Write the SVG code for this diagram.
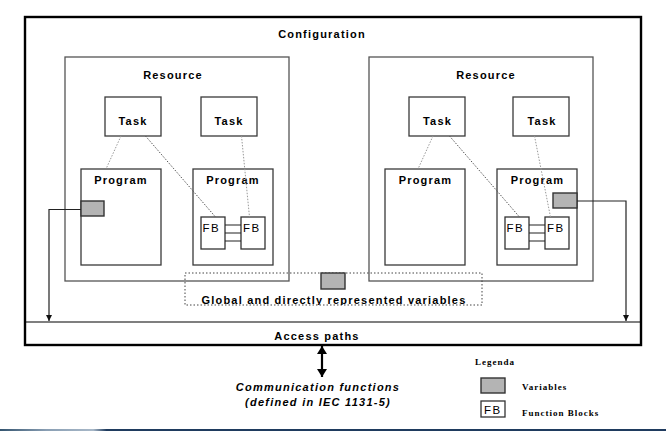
<svg xmlns="http://www.w3.org/2000/svg" width="666" height="431" viewBox="0 0 666 431">
<style>
.lbl{font-family:"Liberation Sans",Arial,sans-serif;font-weight:bold;font-size:11px;letter-spacing:1.2px;fill:#000}
.fb{font-family:"Liberation Sans",Arial,sans-serif;font-size:11.5px;letter-spacing:1.5px;fill:#000}
.leg{font-family:"Liberation Serif","Times New Roman",serif;font-weight:bold;font-size:9px;letter-spacing:1px;fill:#000}
.it{font-family:"Liberation Sans",Arial,sans-serif;font-weight:bold;font-style:italic;font-size:11px;letter-spacing:1.25px;fill:#000}
.box{fill:#fff;stroke:#3a3a3a;stroke-width:1.3}
.res{fill:#fff;stroke:#555;stroke-width:1.3}
.var{fill:#b4b4b4;stroke:#333;stroke-width:1.4}
.fbx{fill:#fff;stroke:#333;stroke-width:1.3}
.dot{fill:none;stroke:#999;stroke-width:1;stroke-dasharray:1.5 1.5}
.dotd{fill:none;stroke:#555;stroke-width:1;stroke-dasharray:1.5 1.5}
.wire{fill:none;stroke:#222;stroke-width:1.2}
</style>
<defs>
<marker id="ah" viewBox="0 0 6 6" refX="6" refY="3" markerWidth="6" markerHeight="6" markerUnits="userSpaceOnUse" orient="auto">
<path d="M0,0 L6,3 L0,6 Z" fill="#111"/>
</marker>
<marker id="big" viewBox="0 0 8 10" refX="8" refY="5" markerWidth="8" markerHeight="10" markerUnits="userSpaceOnUse" orient="auto-start-reverse">
<path d="M0,0 L8,5 L0,10 Z" fill="#000"/>
</marker>
<clipPath id="gclip"><rect x="185" y="273" width="297" height="32"/></clipPath>
<linearGradient id="strip" x1="0" y1="0" x2="1" y2="0">
<stop offset="0" stop-color="#34546f"/>
<stop offset="0.07" stop-color="#8a9fb4"/>
<stop offset="0.14" stop-color="#a8b8c8"/>
<stop offset="0.16" stop-color="#1f3b5e"/>
<stop offset="1" stop-color="#1f3b5e"/>
</linearGradient>
</defs>
<rect width="666" height="431" fill="#fff"/>
<rect x="0" y="429" width="666" height="2" fill="url(#strip)"/>

<g id="configuration">
<rect x="25" y="17" width="616" height="328" fill="#fff" stroke="#000" stroke-width="2.4"/>
<text class="lbl" x="322" y="38" text-anchor="middle">Configuration</text>
</g>

<g id="access-paths">
<line x1="25" y1="322" x2="641" y2="322" stroke="#000" stroke-width="1.2"/>
<text class="lbl" x="317" y="340" text-anchor="middle">Access paths</text>
</g>

<g id="resource1">
<rect class="res" x="65" y="57" width="224" height="224"/>
<text class="lbl" x="173" y="79" text-anchor="middle">Resource</text>
</g>
<g id="resource2">
<rect class="res" x="369" y="57" width="224" height="224"/>
<text class="lbl" x="486" y="79" text-anchor="middle">Resource</text>
</g>

<g id="global-vars">
<rect x="185" y="273" width="297" height="32" fill="none" stroke="#444" stroke-width="1" stroke-dasharray="1.5 2"/>
<rect class="var" x="321" y="273" width="24" height="16"/>
<text class="lbl" x="334" y="304" text-anchor="middle" clip-path="url(#gclip)">Global and directly represented variables</text>
</g>

<g id="task1"><rect class="box" x="105" y="97" width="56" height="39"/><text class="lbl" x="133" y="125" text-anchor="middle">Task</text></g>
<g id="task2"><rect class="box" x="201" y="97" width="56" height="39"/><text class="lbl" x="229" y="125" text-anchor="middle">Task</text></g>
<g id="task3"><rect class="box" x="409" y="97" width="56" height="39"/><text class="lbl" x="437.5" y="125" text-anchor="middle">Task</text></g>
<g id="task4"><rect class="box" x="513" y="97" width="56" height="39"/><text class="lbl" x="542" y="125" text-anchor="middle">Task</text></g>

<g id="program1"><rect class="box" x="81" y="169" width="80" height="96"/><text class="lbl" x="121" y="184" text-anchor="middle">Program</text></g>
<g id="program2"><rect class="box" x="193" y="169" width="80" height="96"/><text class="lbl" x="233" y="184" text-anchor="middle">Program</text></g>
<g id="program3"><rect class="box" x="385" y="169" width="80" height="96"/><text class="lbl" x="425.5" y="184" text-anchor="middle">Program</text></g>
<g id="program4"><rect class="box" x="497" y="169" width="80" height="96"/><text class="lbl" x="537.5" y="184" text-anchor="middle">Program</text></g>

<g id="var1"><rect class="var" x="81" y="201" width="23" height="15"/></g>
<g id="var2"><rect class="var" x="553" y="193" width="24" height="15"/></g>

<g id="fb1"><rect class="fbx" x="201" y="217" width="24" height="32"/><text class="fb" x="202.5" y="232">FB</text></g>
<g id="fb2"><rect class="fbx" x="241" y="217" width="24" height="32"/><text class="fb" x="243" y="232">FB</text></g>
<g id="fb3"><rect class="fbx" x="505" y="217" width="24" height="32"/><text class="fb" x="506.5" y="232">FB</text></g>
<g id="fb4"><rect class="fbx" x="545" y="217" width="24" height="32"/><text class="fb" x="547" y="232">FB</text></g>

<g id="connectors">
<line class="dot" x1="121" y1="136" x2="106" y2="169"/>
<line class="dotd" x1="145.5" y1="136" x2="215.5" y2="217"/>
<line class="dot" x1="241.5" y1="136" x2="249.5" y2="217"/>
<line class="dot" x1="433" y1="136" x2="418" y2="169"/>
<line class="dotd" x1="449.5" y1="136" x2="519.5" y2="217"/>
<line class="dot" x1="534.5" y1="136" x2="550.5" y2="217"/>
<path class="wire" d="M225,225 H241 M225,233 H241 M225,241 H241"/>
<path class="wire" d="M529,225 H545 M529,233 H545 M529,241 H545"/>
<path class="wire" d="M81,209.5 H49 V321" marker-end="url(#ah)"/>
<path class="wire" d="M577,201 H626 V321" marker-end="url(#ah)"/>
<line x1="322" y1="346" x2="322" y2="377" stroke="#000" stroke-width="2.2" marker-start="url(#big)" marker-end="url(#big)"/>
</g>

<g id="comm-functions">
<text class="it" x="318" y="391" text-anchor="middle">Communication functions</text>
<text class="it" x="318" y="406" text-anchor="middle">(defined in IEC 1131-5)</text>
</g>

<g id="legend">
<text class="leg" x="475" y="365">Legenda</text>
<rect class="var" x="481" y="378" width="24" height="15"/>
<text class="leg" x="522" y="390">Variables</text>
<rect class="fbx" x="481" y="401" width="24" height="16"/>
<text class="fb" x="484" y="414">FB</text>
<text class="leg" x="522" y="416">Function Blocks</text>
</g>
</svg>
